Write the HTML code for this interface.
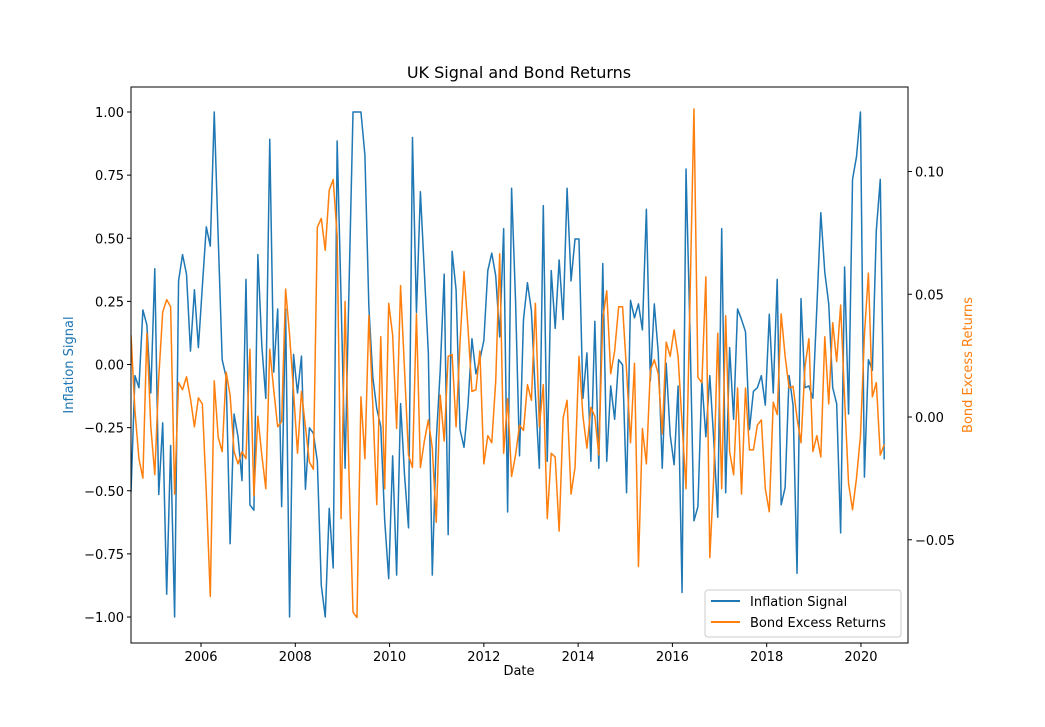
<!DOCTYPE html>
<html><head><meta charset="utf-8"><style>
body{margin:0;background:#fff;}
svg text{font-family:"DejaVu Sans","Liberation Sans",sans-serif;}
</style></head><body>
<svg id="chart" width="1045" height="722" xmlns="http://www.w3.org/2000/svg">
<rect width="1045" height="722" fill="#fff"/>
<text x="519" y="78" font-size="16" text-anchor="middle">UK Signal and Bond Returns</text>
<g id="plot"></g>
<text x="519" y="675" font-size="13" text-anchor="middle">Date</text>
<text transform="translate(73,365) rotate(-90)" font-size="13" text-anchor="middle" fill="#1f77b4">Inflation Signal</text>
<text transform="translate(972,365) rotate(-90)" font-size="13" text-anchor="middle" fill="#ff7f0e">Bond Excess Returns</text>
<g>
<rect x="705" y="590" width="196" height="47" rx="3" fill="#fff" stroke="#ccc"/>
<line x1="711" y1="601" x2="740" y2="601" stroke="#1f77b4" stroke-width="2"/>
<text x="750" y="606" font-size="13">Inflation Signal</text>
<line x1="711" y1="622" x2="740" y2="622" stroke="#ff7f0e" stroke-width="2"/>
<text x="750" y="627" font-size="13">Bond Excess Returns</text>
</g>
</svg>
<script>
const startYear = 2004, startMonth = 7;
const inflationSignal = [
-0.508,-0.044,-0.092,0.216,0.157,-0.113,0.379,-0.515,-0.231,-0.910,
-0.321,-1.0,0.331,0.435,0.358,0.053,0.296,0.067,0.310,0.545,
0.469,1.0,0.50,0.019,-0.05,-0.71,-0.196,-0.286,-0.46,0.337,
-0.556,-0.577,0.435,0.074,-0.134,0.892,-0.03,0.22,-0.563,0.22,
-1.0,0.04,-0.113,0.033,-0.494,-0.251,-0.272,-0.383,-0.875,-1.0,
-0.570,-0.806,0.885,0.254,-0.411,0.310,1,1,1,0.830,
0.227,-0.051,-0.175,-0.245,-0.619,-0.848,-0.362,-0.834,-0.155,-0.439,
-0.647,0.899,0.206,0.684,0.365,0.046,-0.834,-0.300,-0.023,0.358,
-0.674,0.448,0.296,-0.258,-0.328,-0.161,0.102,-0.037,0.019,0.095,
0.372,0.441,0.351,0.109,0.538,-0.584,0.698,0.254,
-0.362,0.178,0.324,0.213,-0.12,-0.411,0.629,-0.383,0.372,0.143,
0.414,0.178,0.698,0.331,0.497,0.497,-0.134,0.046,-0.383,0.171,
-0.411,0.40,-0.383,-0.085,-0.217,0.019,-0.002,-0.508,0.254,0.185,
0.240,0.137,0.615,-0.064,0.240,0.046,-0.411,0.005,-0.279,-0.397,
-0.085,-0.903,0.774,0.130,-0.619,-0.563,-0.064,-0.286,
-0.044,-0.300,-0.605,0.538,-0.508,0.067,-0.217,0.220,0.178,0.130,
-0.258,-0.106,-0.092,-0.044,-0.161,0.199,-0.113,0.337,-0.556,-0.487,
-0.044,-0.161,-0.827,0.261,-0.092,-0.085,-0.134,0.227,0.601,0.365,
0.240,-0.092,-0.155,-0.667,0.386,-0.196,0.733,0.823,1.0,-0.446,
0.019,-0.023,0.532,0.733,-0.376];
const bondReturns = [
0.0334,0.0024,-0.017,-0.0249,0.0341,-0.004,-0.0235,0.0161,0.0427,0.0478,
0.0449,-0.0314,0.014,0.0111,0.0164,0.0075,-0.004,0.0078,0.0053,-0.031,
-0.0731,0.0147,-0.0083,-0.0141,0.0183,0.0089,-0.0141,-0.0191,-0.0141,-0.017,
0.0276,-0.0321,0.0003,-0.0155,-0.0292,0.0276,0.0111,-0.004,-0.0019,0.0521,
0.0334,0.0104,-0.0148,0.0104,-0.004,-0.0184,-0.0213,0.0773,0.0809,0.0679,
0.0924,0.0967,0.0737,-0.0414,0.0471,-0.0242,-0.0795,-0.0817,0.0082,-0.0170,
0.0413,0.0046,-0.0357,0.0327,-0.0292,0.0463,0.0334,-0.0047,0.0535,0.019,
-0.0155,-0.0206,0.042,-0.0206,-0.0098,-0.0012,-0.0127,-0.0429,0.0089,-0.0098,
0.0247,0.0255,-0.004,0.0305,0.0593,0.0363,0.0104,0.0111,0.0269,-0.0191,
-0.0076,-0.0105,0.0147,0.0665,-0.0148,0.0075,-0.0242,-0.0155,
-0.0033,-0.0055,0.0132,0.0068,0.0463,-0.004,0.0132,-0.0414,-0.0148,-0.0163,
-0.0465,-0.0004,0.0068,-0.0314,-0.0206,0.0247,0.0003,-0.0127,0.0039,0.0003,
-0.0155,0.0399,0.0514,0.0176,0.0269,0.0449,0.0449,0.019,-0.0105,0.0219,
-0.0609,-0.0047,-0.0191,0.019,0.0233,0.0176,-0.0069,0.0305,0.0247,0.0355,
0.0247,-0.0026,-0.0292,0.0478,0.1255,0.0161,0.014,0.0571,
-0.0573,-0.0242,0.0341,-0.0292,0.0413,-0.0141,-0.0235,0.0118,-0.0314,0.0118,
-0.0134,-0.0134,-0.0033,-0.0012,-0.0292,-0.0386,0.006,0.001,0.042,0.0247,
0.0118,0.0125,-0.0004,-0.0105,0.0204,0.0319,-0.0141,-0.0076,-0.0163,0.0327,
0.0053,0.0384,0.0226,0.0456,0.0075,-0.0271,-0.0378,-0.0249,-0.0076,0.0334,
0.0586,0.0082,0.014,-0.0155,-0.0112];
const xTicks = [2006,2008,2010,2012,2014,2016,2018,2020];
const leftTicks = [1.0,0.75,0.5,0.25,0.0,-0.25,-0.5,-0.75,-1.0];
const leftTickLabels = ["1.00","0.75","0.50","0.25","0.00","\u22120.25","\u22120.50","\u22120.75","\u22121.00"];
const rightTicks = [0.10,0.05,0.0,-0.05];
const rightTickLabels = ["0.10","0.05","0.00","\u22120.05"];

const L=131,R=908,T=87,B=643;
function xS(d){return 201+(d-2006)*47.14;}
function yL(v){return 364.5-v*252.5;}
function yR(v){return 417-v*2455;}
function dateOf(i){return startYear+(startMonth-1)/12+0.015+i*0.0841;}
const NS="http://www.w3.org/2000/svg";
const g=document.getElementById('plot');
function mk(tag,attrs,parent){const e=document.createElementNS(NS,tag);for(const k in attrs)e.setAttribute(k,attrs[k]);(parent||g).appendChild(e);return e;}

const clip=mk('clipPath',{id:'pc'});mk('rect',{x:L,y:T,width:R-L,height:B-T},clip);

function line(vals,scale,color,name){
  let d='';
  vals.forEach((v,i)=>{d+=(i?'L':'M')+xS(dateOf(i)).toFixed(2)+','+scale(v).toFixed(2);});
  const p=mk('path',{d:d,fill:'none',stroke:color,'stroke-width':1.5,'clip-path':'url(#pc)','stroke-linejoin':'round'});
  
  
}
line(inflationSignal,yL,'#1f77b4','inflation-signal-line');
line(bondReturns,yR,'#ff7f0e','bond-excess-returns-line');

const frame=mk('rect',{x:L,y:T,width:R-L,height:B-T,fill:'none',stroke:'#000','stroke-width':1});



xTicks.forEach(t=>{
  const x=xS(t);
  mk('line',{x1:x,y1:B,x2:x,y2:B+4,stroke:'#000'});
  const tx=mk('text',{x:x,y:B+18,'font-size':13,'text-anchor':'middle'});
  tx.textContent=t;
  
  
});
leftTicks.forEach((t,i)=>{
  const y=yL(t);
  mk('line',{x1:L-4,y1:y,x2:L,y2:y,stroke:'#000'});
  const tx=mk('text',{x:L-7,y:y+5,'font-size':13,'text-anchor':'end'});
  tx.textContent=leftTickLabels[i];
  
  
});
rightTicks.forEach((t,i)=>{
  const y=yR(t);
  mk('line',{x1:R,y1:y,x2:R+4,y2:y,stroke:'#000'});
  const tx=mk('text',{x:R+7,y:y+5,'font-size':13,'text-anchor':'start'});
  tx.textContent=rightTickLabels[i];
  
  
});
</script>
</body></html>
